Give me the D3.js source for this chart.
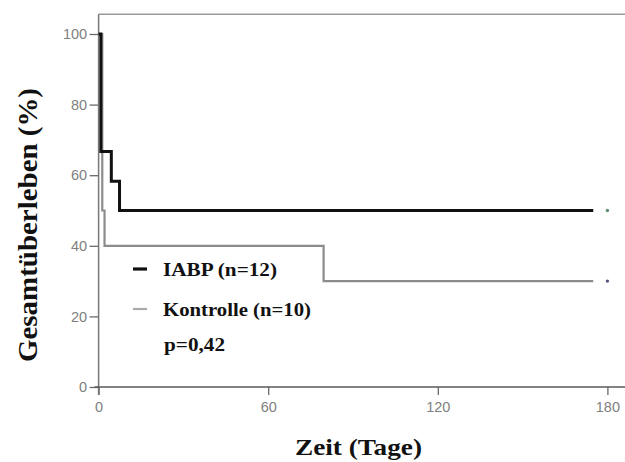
<!DOCTYPE html>
<html><head><meta charset="utf-8">
<script src="https://cdn.jsdelivr.net/npm/d3@7"></script>
<style>body{margin:0;background:#fff}svg{display:block}</style>
</head><body>
<script>
// Data
const seriesNames = ["IABP (n=12)", "Kontrolle (n=10)"];
const iabpTimes = [0, 0.8, 4.5, 7.4, 175];
const iabpSurvival = [100, 66.7, 58.3, 50, 50];
const kontrolleTimes = [0, 1.3, 2.1, 79.6, 175];
const kontrolleSurvival = [100, 50, 40, 30, 30];
const censorTime = 180;
const xTicks = [0, 60, 120, 180];
const yTicks = [0, 20, 40, 60, 80, 100];
const pValueText = "p=0,42";

const W = 625, H = 462;
const svg = d3.select("body").append("svg").attr("width", W).attr("height", H);

const x = d3.scaleLinear().domain([0, 180]).range([98.6, 607.4]);
const y = d3.scaleLinear().domain([0, 100]).range([387, 34]);
const yTop = y(105.6);

// frame top line
svg.append("line").attr("x1", x(0)).attr("x2", W).attr("y1", yTop).attr("y2", yTop)
  .attr("stroke", "#9a9a9a").attr("stroke-width", 1.3);

// axes
const sans = "'Liberation Sans', Arial, sans-serif";
const gy = svg.append("g").attr("transform", `translate(${x(0)},0)`)
  .call(d3.axisLeft(y).tickValues(yTicks).tickSize(9).tickPadding(2.5));
const gx = svg.append("g").attr("transform", `translate(0,${y(0)})`)
  .call(d3.axisBottom(x).tickValues(xTicks).tickSize(8).tickPadding(7));
[gx, gy].forEach(g => {
  g.select(".domain").remove();
  g.selectAll("line").attr("stroke", "#6a6a6a").attr("stroke-width", 1.3);
  g.selectAll("text").attr("fill", "#808080").style("font-family", sans).style("font-size", "14.5px");
});
// axis lines
svg.append("line").attr("x1", x(0)).attr("x2", x(0)).attr("y1", yTop).attr("y2", y(0) + 8)
  .attr("stroke", "#777").attr("stroke-width", 1.5);
svg.append("line").attr("x1", x(0) - 4).attr("x2", W).attr("y1", y(0)).attr("y2", y(0))
  .attr("stroke", "#5a5a5a").attr("stroke-width", 1.6);

// step curves
const line = d3.line().x(d => x(d[0])).y(d => y(d[1])).curve(d3.curveStepAfter);
const kData = kontrolleTimes.map((t, i) => [t, kontrolleSurvival[i]]);
const iData = iabpTimes.map((t, i) => [t, iabpSurvival[i]]);
svg.append("path").datum(kData).attr("d", line).attr("fill", "none")
  .attr("stroke", "#8c8c8c").attr("stroke-width", 2.2);
svg.append("path").datum(iData).attr("d", line).attr("fill", "none")
  .attr("stroke", "#111").attr("stroke-width", 3);

// censor marks
svg.append("circle").attr("cx", x(censorTime)).attr("cy", y(iabpSurvival[iabpSurvival.length - 1])).attr("r", 1.7).attr("fill", "#5f8f70");
svg.append("circle").attr("cx", x(censorTime)).attr("cy", y(kontrolleSurvival[kontrolleSurvival.length - 1])).attr("r", 1.7).attr("fill", "#55557a");

// legend
const serif = "'Liberation Serif', 'Times New Roman', serif";
const leg = [{name: seriesNames[0], color: "#111", w: 3.2, yy: 269, base: 276, len: 114},
             {name: seriesNames[1], color: "#aaa", w: 2.2, yy: 309, base: 316, len: 148}];
leg.forEach(l => {
  svg.append("line").attr("x1", 133).attr("x2", 147).attr("y1", l.yy).attr("y2", l.yy)
    .attr("stroke", l.color).attr("stroke-width", l.w);
  svg.append("text").attr("x", 163).attr("y", l.base).text(l.name)
    .attr("textLength", l.len).attr("lengthAdjust", "spacingAndGlyphs")
    .style("font-family", serif).style("font-weight", "bold").style("font-size", "19px").attr("fill", "#111");
});
svg.append("text").attr("x", 164).attr("y", 351).text(pValueText)
  .attr("textLength", 61).attr("lengthAdjust", "spacingAndGlyphs")
  .style("font-family", serif).style("font-weight", "bold").style("font-size", "19px").attr("fill", "#111");

// axis titles
svg.append("text").attr("x", 295).attr("y", 455).text("Zeit (Tage)")
  .attr("textLength", 127).attr("lengthAdjust", "spacingAndGlyphs")
  .style("font-family", serif).style("font-weight", "bold").style("font-size", "24px").attr("fill", "#111");
svg.append("text").attr("transform", "translate(37,362) rotate(-90)").text("Gesamtüberleben (%)")
  .attr("textLength", 274).attr("lengthAdjust", "spacingAndGlyphs")
  .style("font-family", serif).style("font-weight", "bold").style("font-size", "27px").attr("fill", "#111");
</script>
</body></html>
